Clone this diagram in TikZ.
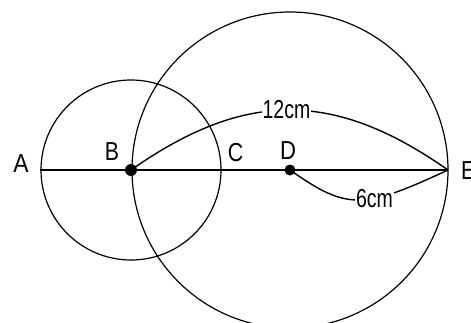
\documentclass[tikz,border=0pt]{standalone}
\usepackage{fontspec}
\setmainfont{Liberation Sans}
\begin{document}
\begin{tikzpicture}[x=1pt,y=-1pt,
  lbl/.style={font=\fontsize{26}{26}\selectfont, inner sep=0pt},
  dimlbl/.style={font=\fontsize{26}{26}\selectfont, inner sep=1pt, fill=white},
  circ/.style={line width=1.2pt},
  arc/.style={line width=1.4pt}]
\useasboundingbox (0,0) rectangle (471,322);
\clip (0,0) rectangle (471,322);
\fill[white] (0,0) rectangle (471,322);
\coordinate (A) at (40,170);
\coordinate (B) at (131,170);
\coordinate (C) at (221,170);
\coordinate (D) at (290,170);
\coordinate (E) at (448,170);
\draw[circ] (B) circle[radius=90];
\draw[circ] (D) circle[radius=158];
\draw[line width=2.3pt] (A) -- (E);
\draw[arc] (B) .. controls (245,90) and (334,90) .. (E)
  node[pos=0.49, dimlbl] (l12) {\scalebox{0.75}[1]{12cm}};
\draw[arc] (D) .. controls (347,210) and (362,210) .. (E)
  node[pos=0.62, dimlbl] (l6) {\scalebox{0.75}[1]{6cm}};
\fill (B) circle[radius=6];
\fill (D) circle[radius=5.5];
\node[lbl] (tA) at (21,164) {\scalebox{0.88}[1]{A}};
\node[lbl] (tB) at (112,152) {\scalebox{0.82}[1]{B}};
\node[lbl] (tC) at (235.5,153) {\scalebox{0.82}[1]{C}};
\node[lbl] (tD) at (288,151) {\scalebox{0.85}[1]{D}};
\node[lbl, anchor=west] (tE) at (461,171) {\scalebox{0.82}[1]{E}};
\end{tikzpicture}
\end{document}
